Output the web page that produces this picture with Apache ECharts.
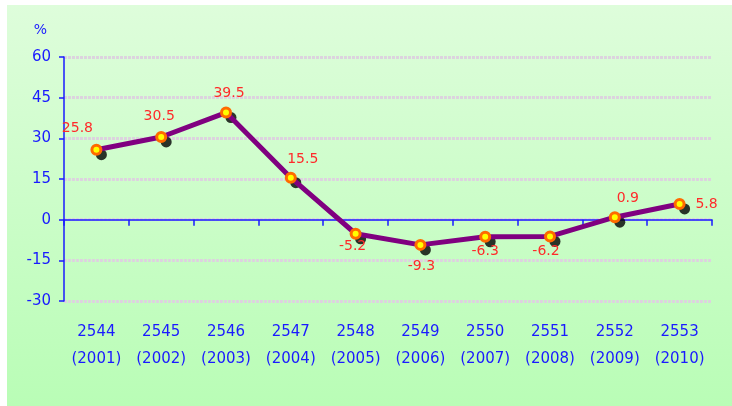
<!DOCTYPE html>
<html><head><meta charset="utf-8">
<script src="https://cdn.jsdelivr.net/npm/echarts@6/dist/echarts.min.js"></script>
<style>html,body{margin:0;padding:0;background:#fff}#c{width:732px;height:406px}</style>
</head><body><div id="c"></div>
<script>
const thaiYears = ['2544','2545','2546','2547','2548','2549','2550','2551','2552','2553'];
const ceYears = ['2001','2002','2003','2004','2005','2006','2007','2008','2009','2010'];
const values = [25.8, 30.5, 39.5, 15.5, -5.2, -9.3, -6.3, -6.2, 0.9, 5.8];
const yTicks = [-30, -15, 0, 15, 30, 45, 60];

const labelOffsets = [[-19,-21],[-2,-21],[3,-19],[12,-18],[-3,13],[1,21],[0,15],[-4,15],[13,-19],[27,0]];
const categories = thaiYears.map((t,i)=>t+'\n('+ceYears[i]+')');
const font = 'DejaVu Sans, Verdana, sans-serif';

const chart = echarts.init(document.getElementById('c'), null, {renderer:'canvas'});
chart.setOption({
  animation:false,
  backgroundColor:'#ffffff',
  graphic:[{type:'rect', z:-10, shape:{x:7,y:5,width:725,height:401},
    style:{fill:new echarts.graphic.LinearGradient(0,0,0,1,[{offset:0,color:'#defddb'},{offset:1,color:'#b9fdb6'}])}}],
  grid:{left:64,right:20,top:57,bottom:105,containLabel:false},
  xAxis:[{
    type:'category', data:categories, boundaryGap:true,
    axisLine:{onZero:true, lineStyle:{color:'#1a1aff',width:1.5}},
    axisTick:{show:true, alignWithLabel:false, length:6, lineStyle:{color:'#1a1aff',width:1.5}},
    axisLabel:{show:false}, splitLine:{show:false}
  },{
    type:'category', data:categories, position:'bottom', boundaryGap:true,
    axisLine:{show:false, onZero:false}, axisTick:{show:false},
    axisLabel:{show:true, margin:18, color:'#1a1aff', fontFamily:font, fontSize:15, lineHeight:27, interval:0}
  }],
  yAxis:{
    type:'value', min:-30, max:60, interval:15,
    name:'%', nameLocation:'end', nameGap:20,
    nameTextStyle:{color:'#1a1aff', fontFamily:font, fontSize:14, align:'right', padding:[0,17,0,0]},
    axisLine:{show:true, lineStyle:{color:'#1a1aff',width:1.5}},
    axisTick:{show:true, length:5, lineStyle:{color:'#1a1aff',width:1.5}},
    axisLabel:{color:'#1a1aff', fontFamily:font, fontSize:15, margin:13,
      formatter:v=>yTicks.includes(v)?String(v):''},
    splitLine:{show:true, lineStyle:{color:'#dcd3de', width:3, type:[3,1]}}
  },
  series:[{
    type:'scatter', xAxisIndex:0, data:values, symbol:'circle', symbolSize:11,
    symbolOffset:[5,5], itemStyle:{color:'#000'}, z:1, silent:true
  },{
    type:'line', xAxisIndex:0, data:values.map((v,i)=>({value:v, label:{offset:labelOffsets[i]}})),
    z:3, symbol:'circle', symbolSize:9, showAllSymbol:true,
    lineStyle:{color:'#800080', width:5},
    itemStyle:{color:'#ffff00', borderColor:'#ff6a00', borderWidth:3},
    label:{show:true, position:'inside', color:'#ff2a2a', fontFamily:font, fontSize:14,
      formatter:p=>String(p.value)}
  }]
});
</script></body></html>
